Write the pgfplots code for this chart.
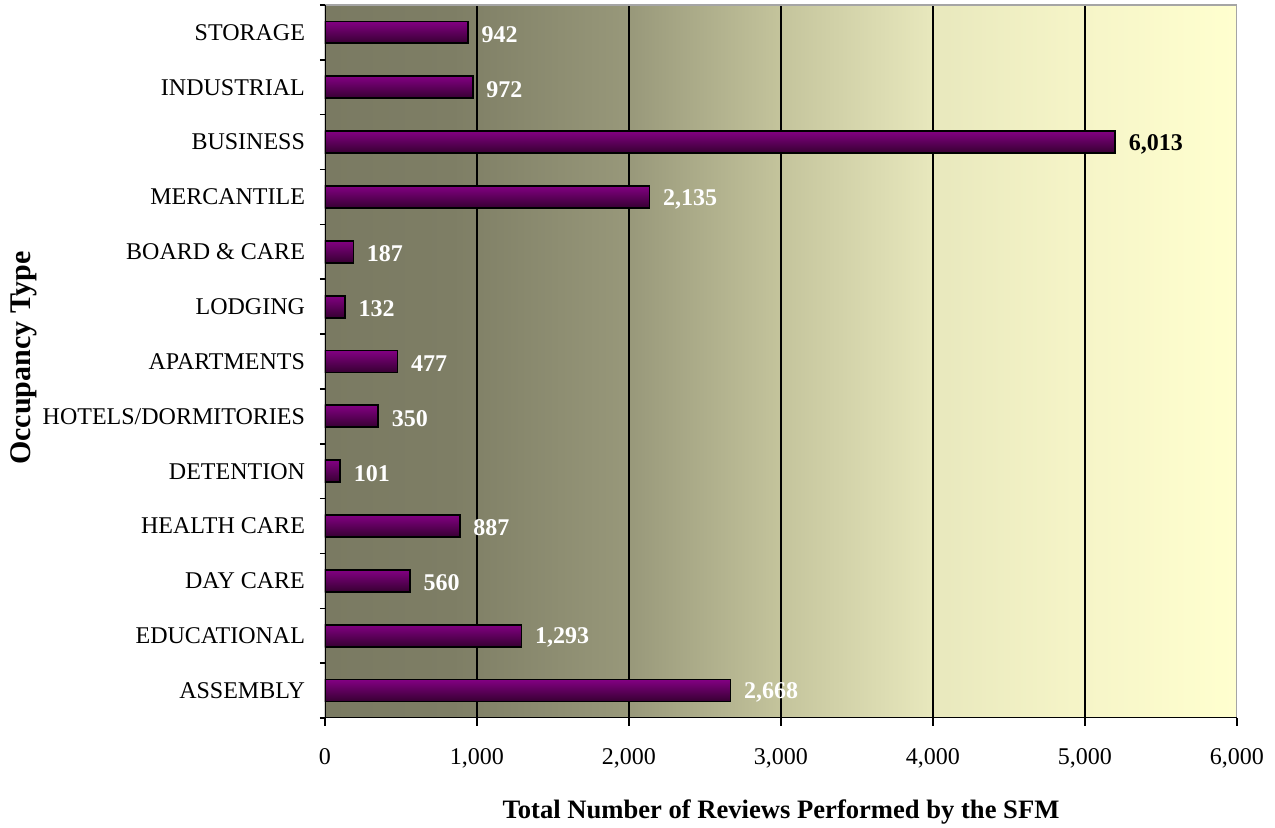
\documentclass[border=0pt]{standalone}
\usepackage{fontspec}
\setmainfont{Liberation Serif}
\usepackage{pgfplots}
\pgfplotsset{compat=1.18}

\definecolor{barTop}{RGB}{130,0,130}
\definecolor{barBot}{RGB}{55,0,50}
\definecolor{bg0}{RGB}{122,122,98}
\definecolor{bg1}{RGB}{126,126,101}
\definecolor{bg2}{RGB}{152,152,122}
\definecolor{bg3}{RGB}{196,196,156}
\definecolor{bg4}{RGB}{232,232,189}
\definecolor{bg5}{RGB}{246,245,200}
\definecolor{bg6}{RGB}{255,255,207}
\definecolor{frame}{RGB}{165,165,165}

% background gradient, darker on the left, pale yellow on the right
\pgfdeclarehorizontalshading{bgshade}{100bp}{color(0bp)=(bg0); color(25bp)=(bg0);
  color(32bp)=(bg1); color(41.67bp)=(bg2); color(50bp)=(bg3); color(58.33bp)=(bg4);
  color(66.67bp)=(bg5); color(75bp)=(bg6); color(100bp)=(bg6)}

% one plot per bar so each bar gets its own top-to-bottom shading
\pgfplotsset{sbar/.style={draw=black, line width=0.9pt, top color=barTop, bottom color=barBot}}

\begin{document}
\begin{tikzpicture}
\begin{axis}[
  scale only axis,
  width=456pt, height=356.5pt,
  xmin=0, xmax=6000,
  ymin=-0.5, ymax=12.5,
  xbar, bar width=0.4, bar shift=0pt,
  axis background/.style={shading=bgshade},
  axis line style={draw=none},
  tick align=outside,
  xtick={0,1000,...,6000},
  xtick pos=left, ytick pos=left,
  major tick length=4pt, minor tick length=2.5pt,
  tick style={black, line width=0.75pt},
  major y tick style={draw=none},
  ytick={0,...,12},
  minor ytick={-0.5,0.5,...,12.5},
  yticklabels={ASSEMBLY, EDUCATIONAL, DAY CARE, HEALTH CARE, DETENTION,
    HOTELS/DORMITORIES, APARTMENTS, LODGING, BOARD \& CARE, MERCANTILE,
    BUSINESS, INDUSTRIAL, STORAGE},
  extra x ticks={1000,2000,3000,4000,5000},
  extra x tick labels={},
  extra x tick style={xmajorgrids=true, major tick length=0pt,
    major grid style={black, line width=0.75pt}},
  scaled x ticks=false,
  /pgf/number format/1000 sep={,},
  /pgf/number format/assume math mode=true,
  tick label style={font=\fontsize{12}{14}\selectfont},
  yticklabel style={xshift=-2.5pt},
  xticklabel style={yshift=-7.5pt},
  xlabel={Total Number of Reviews Performed by the SFM},
  xlabel style={font=\bfseries\fontsize{13.3}{16}\selectfont,
    at={(axis description cs:0.5,-0.1403)}, anchor=base},
  ylabel={Occupancy Type},
  ylabel style={font=\bfseries\fontsize{15}{17}\selectfont,
    at={(axis description cs:-0.3224,0.505)}, anchor=base},
  nodes near coords,
  point meta=explicit symbolic,
  nodes near coords style={font=\bfseries\fontsize{12}{14}\selectfont,
    text=white, anchor=west, xshift=3pt, yshift=-1pt},
]
\addplot[sbar] coordinates {(2668,0) [2,668]};
\addplot[sbar] coordinates {(1293,1) [1,293]};
\addplot[sbar] coordinates {(560,2) [560]};
\addplot[sbar] coordinates {(887,3) [887]};
\addplot[sbar] coordinates {(101,4) [101]};
\addplot[sbar] coordinates {(350,5) [350]};
\addplot[sbar] coordinates {(477,6) [477]};
\addplot[sbar] coordinates {(132,7) [132]};
\addplot[sbar] coordinates {(187,8) [187]};
\addplot[sbar] coordinates {(2135,9) [2,135]};
% business bar is drawn shorter than its label in the original
\addplot[sbar, every node near coord/.append style={text=black}]
  coordinates {(5200,10) [6,013]};
\addplot[sbar] coordinates {(972,11) [972]};
\addplot[sbar] coordinates {(942,12) [942]};

\coordinate (O) at (rel axis cs:0,0);
\coordinate (T) at (rel axis cs:1,1);
\draw[frame, line width=1pt] (rel axis cs:0,1) -- (rel axis cs:1,1) -- (rel axis cs:1,0);
\draw[black, line width=0.75pt] (rel axis cs:0,1) -- (rel axis cs:0,0) -- (rel axis cs:1,0);
\end{axis}
\pgfresetboundingbox
\path ([xshift=-162.5pt,yshift=-55pt]O) rectangle ([xshift=19pt,yshift=2.5pt]T);
\end{tikzpicture}
\end{document}
